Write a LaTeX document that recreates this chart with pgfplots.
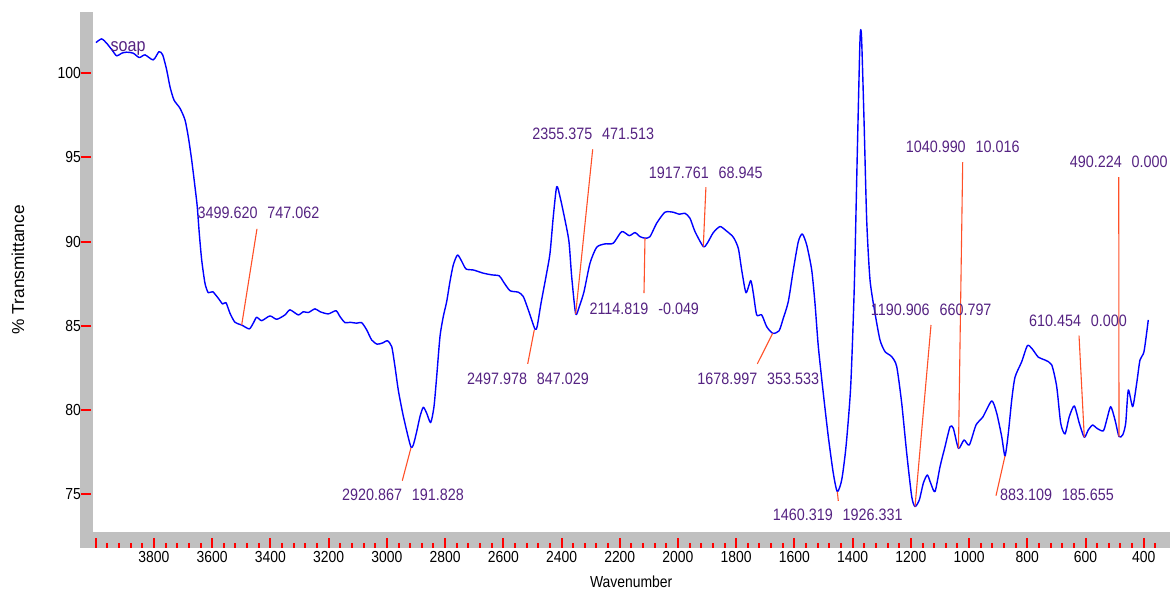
\documentclass[border=0pt]{standalone}
\usepackage{fontspec}
\setmainfont{Liberation Sans}[FakeStretch=0.87]
\newfontfamily\plainsans{Liberation Sans}
\usepackage{pgfplots}
\usepackage{pgfplotstable}
\pgfplotsset{compat=1.18}
\pgfdeclarelayer{background}
\pgfsetlayers{background,main}
\definecolor{curveblue}{RGB}{0,0,255}
\definecolor{annotcol}{RGB}{85,35,130}
\definecolor{leader}{RGB}{255,80,40}
\definecolor{bargray}{RGB}{192,192,192}
\definecolor{tickred}{RGB}{255,0,0}
\tikzset{annotlbl/.style={text=annotcol, font=\fontsize{16.5}{19}\selectfont, anchor=center, inner sep=0pt},
         leaderln/.style={draw=leader, line width=1.1pt}}

\pgfplotstableread{
w T
3999.2 101.82
3979.7 102.04
3962.5 101.78
3945.0 101.40
3928.1 101.03
3911.0 101.19
3893.8 101.25
3871.1 101.19
3850.5 100.93
3830.9 101.09
3802.4 100.79
3782.8 101.28
3770.1 101.09
3756.4 100.20
3745.0 99.20
3731.3 98.41
3710.7 97.92
3693.5 97.23
3682.2 96.23
3670.5 94.85
3659.2 93.26
3651.3 92.07
3644.4 90.49
3636.1 88.91
3624.8 87.52
3613.5 86.96
3598.3 87.02
3579.1 86.63
3564.0 86.29
3552.7 86.37
3538.9 85.74
3521.7 85.20
3498.7 85.04
3472.6 84.81
3458.9 85.15
3447.2 85.50
3430.0 85.30
3401.5 85.58
3378.5 85.38
3350.0 85.64
3332.8 85.94
3304.3 85.64
3287.1 85.83
3270.0 85.78
3246.9 86.00
3229.7 85.83
3201.2 85.70
3174.8 85.89
3161.0 85.54
3143.9 85.18
3126.7 85.20
3103.7 85.15
3086.5 85.18
3069.3 84.75
3052.1 84.15
3032.9 83.90
3012.3 83.99
2998.5 84.11
2983.4 83.76
2972.1 82.57
2960.8 81.18
2945.6 79.80
2929.9 78.61
2917.1 77.78
2909.2 77.91
2897.6 78.70
2886.2 79.60
2874.9 80.15
2863.2 79.80
2849.5 79.24
2838.1 80.19
2828.9 81.97
2817.5 84.35
2806.2 85.54
2794.5 86.43
2783.2 87.62
2771.8 88.61
2757.4 89.20
2743.6 88.85
2728.2 88.37
2703.1 88.31
2668.8 88.12
2639.9 88.02
2613.8 87.96
2600.1 87.62
2577.0 87.08
2548.5 86.99
2531.3 86.73
2514.2 85.94
2491.1 84.79
2483.3 84.99
2470.5 86.33
2453.4 87.91
2439.6 89.30
2428.3 91.48
2416.6 93.26
2405.3 92.67
2388.1 91.28
2374.4 89.99
2365.1 87.91
2351.4 85.70
2339.0 86.13
2322.8 87.02
2302.2 88.71
2279.2 89.66
2250.7 89.86
2222.2 89.90
2193.3 90.59
2167.2 90.35
2147.6 90.53
2130.4 90.29
2113.3 90.20
2096.1 90.29
2073.1 91.09
2044.6 91.74
2016.0 91.74
1995.5 91.62
1975.9 91.68
1958.7 91.38
1941.5 90.59
1913.0 89.70
1899.3 89.90
1878.6 90.53
1855.6 90.89
1835.0 90.65
1809.9 90.26
1792.8 89.60
1781.1 88.31
1766.3 86.96
1750.2 87.68
1741.2 86.93
1729.6 85.64
1712.4 85.64
1695.2 84.94
1674.6 84.55
1652.9 84.69
1638.2 85.44
1621.0 86.43
1603.8 88.31
1586.6 89.99
1572.9 90.45
1557.8 89.80
1540.6 88.31
1529.3 86.33
1517.9 83.76
1500.8 80.99
1483.6 78.41
1466.4 76.23
1452.7 75.14
1437.6 75.83
1422.8 77.81
1406.7 81.38
1394.3 87.32
1384.0 95.25
1374.7 101.98
1369.6 102.22
1360.9 97.23
1351.7 91.28
1340.3 87.72
1323.1 85.74
1306.0 84.15
1288.8 83.46
1265.8 83.16
1248.6 82.57
1231.4 80.39
1214.2 77.42
1197.0 74.84
1185.7 74.25
1170.9 74.65
1157.2 75.64
1143.4 76.13
1131.8 75.64
1117.0 75.14
1099.8 76.62
1082.7 77.81
1065.5 78.99
1054.2 78.91
1036.4 77.71
1017.4 78.21
999.2 77.91
976.2 79.10
953.2 79.56
922.2 80.53
905.1 79.80
887.9 78.41
876.6 77.26
865.2 78.61
853.5 80.59
842.2 81.94
819.2 82.86
800.0 83.81
784.9 83.66
762.2 83.13
739.2 82.96
716.2 82.67
699.0 81.38
685.2 79.20
670.4 78.57
655.7 79.60
638.5 80.23
621.3 79.20
604.2 78.37
590.4 78.81
575.3 79.10
561.5 78.91
538.9 78.75
527.2 79.40
513.5 80.19
498.7 79.40
485.0 78.41
472.3 78.51
462.0 79.20
453.0 81.18
437.9 80.19
424.2 81.58
412.9 82.96
399.1 83.46
384.4 85.34
}\spectrum

\begin{document}
\begin{tikzpicture}
\begin{axis}[
  name=ax,
  scale only axis, width=1072pt, height=519.4pt,
  x dir=reverse,
  xmin=326.9, xmax=4009.5, ymin=72.76, ymax=103.62,
  axis line style={draw=none},
  xtick pos=left, ytick pos=left,
  clip=false,
  tick align=outside,
  major tick length=10pt, minor tick length=5pt,
  every tick/.style={draw=tickred, line width=2pt},
  every major tick/.style={draw=tickred, line width=2pt},
  every minor tick/.style={draw=tickred, line width=2pt},
  major x tick style={yshift=-6pt},
  minor x tick style={yshift=-11pt},
  major y tick style={xshift=-2pt},
  xtick={400,600,...,4000},
  xticklabels={400,600,800,1000,1200,1400,1600,1800,2000,2200,2400,2600,2800,3000,3200,3400,3600,3800,{}},
  minor xtick={360,400,...,4000},
  ytick={75,80,...,100},
  /pgf/number format/assume math mode=true,
  /pgf/number format/1000 sep={},
  tick label style={font=\fontsize{16}{19}\selectfont, text=black},
  xticklabel shift=6pt,
  yticklabel shift=-1.3pt,
  xlabel={Wavenumber},
  ylabel={\% Transmittance},
  xlabel style={at={(axis description cs:0.502,-0.0968)}, anchor=center, font=\fontsize{16}{19}\selectfont, text=black},
  ylabel style={at={(axis description cs:-0.070,0.504)}, anchor=center, font=\plainsans\fontsize{17.3}{20}\selectfont, text=black},
]
\addplot[curveblue, line width=1.4pt, line join=round, mark=none, smooth, tension=0.4] table[x=w, y=T] {\spectrum};

\node[text=annotcol, font=\fontsize{18.5}{21}\selectfont, anchor=center, inner sep=0pt] at (rel axis cs:0.0327,0.931) {soap};

% leader lines
\draw[leaderln] (axis cs:3498.7,85.04) -- (axis cs:3446.2,90.75);
\draw[leaderln] (axis cs:2917.1,77.75) -- (axis cs:2947.0,75.79);
\draw[leaderln] (axis cs:2493.6,84.75) -- (axis cs:2516.2,82.73);
\draw[leaderln] (axis cs:2351.4,85.70) -- (axis cs:2292.9,95.48);
\draw[leaderln] (axis cs:2113.3,90.20) -- (axis cs:2116.7,86.93);
\draw[leaderln] (axis cs:1913.0,89.70) -- (axis cs:1904.0,93.23);
\draw[leaderln] (axis cs:1674.6,84.55) -- (axis cs:1727.5,82.73);
\draw[leaderln] (axis cs:1452.7,75.14) -- (axis cs:1449.2,74.59);
\draw[leaderln] (axis cs:1185.7,74.25) -- (axis cs:1130.8,85.04);
\draw[leaderln] (axis cs:1036.4,77.71) -- (axis cs:1021.9,94.71);
\draw[leaderln] (axis cs:876.6,77.26) -- (axis cs:907.5,74.90);
\draw[leaderln] (axis cs:604.2,78.37) -- (axis cs:622.3,84.41);
\draw[leaderln] (axis cs:485.0,78.41) -- (axis cs:485.9,93.82);

% peak labels
\node[annotlbl] at (axis cs:3441.0,91.70) {3499.620\hspace{0.6em}747.062};
\node[annotlbl] at (axis cs:2944.6,74.94) {2920.867\hspace{0.6em}191.828};
\node[annotlbl] at (axis cs:2515.2,81.84) {2497.978\hspace{0.6em}847.029};
\node[annotlbl] at (axis cs:2290.9,96.38) {2355.375\hspace{0.6em}471.513};
\node[annotlbl] at (axis cs:2115.7,85.98) {2114.819\hspace{0.6em}-0.049};
\node[annotlbl] at (axis cs:1904.4,94.09) {1917.761\hspace{0.6em}68.945};
\node[annotlbl] at (axis cs:1724.0,81.82) {1678.997\hspace{0.6em}353.533};
\node[annotlbl] at (axis cs:1450.9,73.75) {1460.319\hspace{0.6em}1926.331};
\node[annotlbl] at (axis cs:1130.1,85.94) {1190.906\hspace{0.6em}660.797};
\node[annotlbl] at (axis cs:1021.9,95.64) {1040.990\hspace{0.6em}10.016};
\node[annotlbl] at (axis cs:697.9,74.98) {883.109\hspace{0.6em}185.655};
\node[annotlbl] at (axis cs:625.8,85.28) {610.454\hspace{0.6em}0.000};
\node[annotlbl] at (axis cs:485.9,94.71) {490.224\hspace{0.6em}0.000};
\end{axis}
\begin{pgfonlayer}{background}
\fill[bargray] ([shift={(-13pt,-16pt)}]ax.south west) rectangle ([shift={(0pt,519.4pt)}]ax.south west);
\fill[bargray] ([shift={(-13pt,-16pt)}]ax.south west) rectangle ([shift={(1077pt,0pt)}]ax.south west);
\end{pgfonlayer}
\pgfresetboundingbox
\path[use as bounding box] ([shift={(-93pt,-61.3pt)}]ax.south west) rectangle ([shift={(1077pt,531.7pt)}]ax.south west);
\end{tikzpicture}
\end{document}
